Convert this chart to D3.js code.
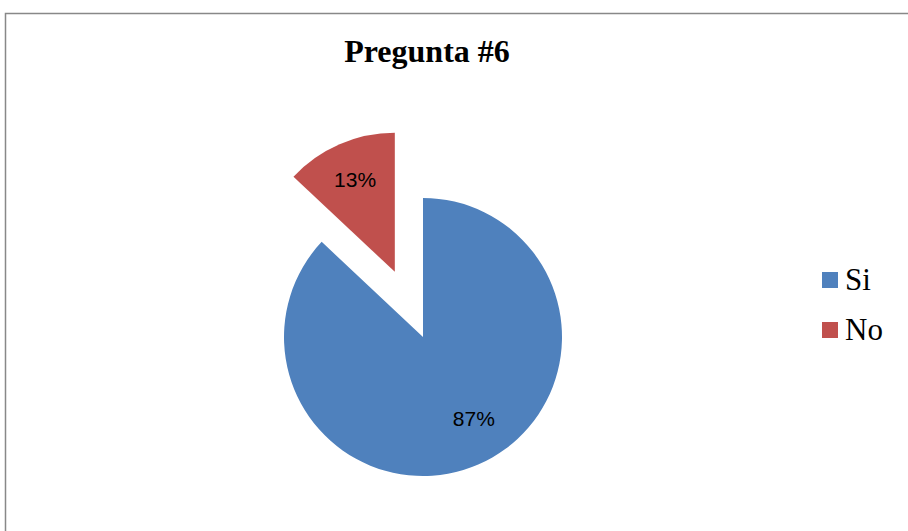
<!DOCTYPE html>
<html><head><meta charset="utf-8">
<script src="https://cdn.jsdelivr.net/npm/d3@7"></script>
<style>html,body{margin:0;padding:0;background:#fff;}svg{display:block;}</style>
</head><body>
<svg id="c" width="908" height="531"></svg>
<script>
const title = "Pregunta #6";
const categories = ["Si", "No"];
const values = [87, 13];
const colors = ["#4F81BD", "#C0504D"];

const svg = d3.select("#c");
// outer frame (clipped at right & bottom)
svg.append("rect").attr("x", 5.5).attr("y", 13.5).attr("width", 950).attr("height", 600)
  .attr("fill", "none").attr("stroke", "#888").attr("stroke-width", 1.5);

svg.append("text").attr("x", 427).attr("y", 62).attr("text-anchor", "middle")
  .attr("font-family", "Liberation Serif, Times New Roman, serif").attr("font-weight", "bold")
  .attr("font-size", 32).text(title);

const cx = 423, cy = 337, r = 139, explode = 71;
const pie = d3.pie().sort(null).value(d => d);
const arcs = pie(values);
const arc = d3.arc().innerRadius(0).outerRadius(r);
const g = svg.append("g").attr("transform", `translate(${cx},${cy})`);

arcs.forEach((a, i) => {
  const mid = (a.startAngle + a.endAngle) / 2;
  const off = i === 1 ? explode : 0;
  const ox = off * Math.sin(mid), oy = -off * Math.cos(mid);
  const sg = g.append("g").attr("transform", `translate(${ox},${oy})`);
  sg.append("path").attr("d", arc(a)).attr("fill", colors[i]);
  const lr = i === 0 ? 0.69 * r : 0.72 * r;
  const la = i === 0 ? mid - 0.15 : mid;
  sg.append("text").attr("x", lr * Math.sin(la)).attr("y", -lr * Math.cos(la))
    .attr("text-anchor", "middle").attr("dy", "0.35em")
    .attr("font-family", "Liberation Sans, Arial, sans-serif").attr("font-size", 21)
    .attr("fill", "#000").text(values[i] + "%");
});

const leg = svg.append("g");
categories.forEach((c, i) => {
  const y = 272 + i * 50;
  leg.append("rect").attr("x", 822).attr("y", y).attr("width", 16).attr("height", 16).attr("fill", colors[i]);
  leg.append("text").attr("x", 845).attr("y", y + 18)
    .attr("font-family", "Liberation Serif, Times New Roman, serif").attr("font-size", 31)
    .attr("fill", "#000").text(c);
});
</script>
</body></html>
